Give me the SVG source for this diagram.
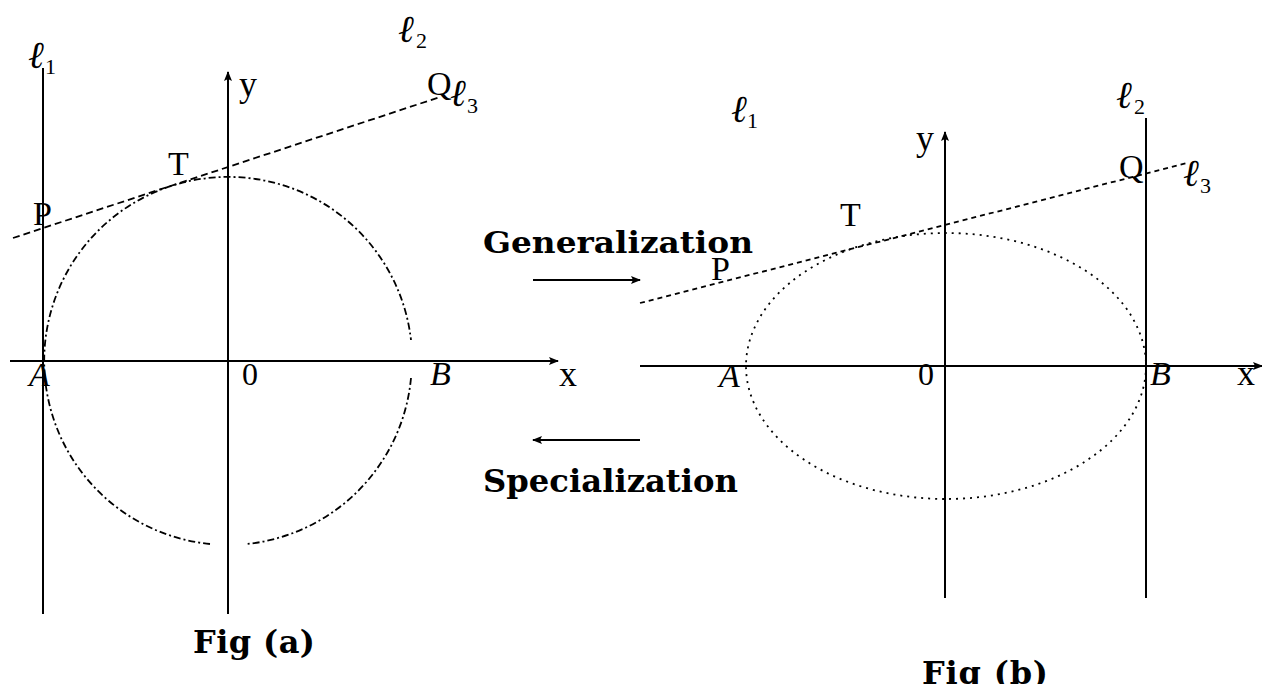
<svg xmlns="http://www.w3.org/2000/svg" width="1262" height="684" viewBox="0 0 1262 684">
<defs>
<marker id="ah" viewBox="0 0 10 8" refX="9" refY="4" markerWidth="10" markerHeight="8" markerUnits="userSpaceOnUse" orient="auto">
<path d="M0,0 L10,4 L0,8 L2,4 Z" fill="#000"/>
</marker>
<style>
.ax{stroke:#000;stroke-width:2;fill:none}
.circ{stroke:#000;stroke-width:1.8;fill:none;stroke-dasharray:7 3 2 3}
.dash3{stroke:#000;stroke-width:1.8;fill:none;stroke-dasharray:7 4}
.dot3{stroke:#000;stroke-width:1.8;fill:none;stroke-dasharray:5 4}
.ell{stroke:#000;stroke-width:1.8;fill:none;stroke-dasharray:2 5}
.lbl{font-family:"Liberation Serif",serif;font-size:34px;fill:#000}
.it{font-family:"Liberation Serif",serif;font-size:34px;font-style:italic;fill:#000}
.ell-l{font-family:"DejaVu Serif",serif;font-size:38px;font-style:italic;fill:#000}
.sub{font-family:"Liberation Serif",serif;font-size:22px;fill:#000}
.bold{font-family:"DejaVu Serif",serif;font-weight:bold;fill:#000}
</style>
</defs>
<rect width="1262" height="684" fill="#fff"/>

<g id="connectors">
<!-- Fig (a) -->
<line class="ax" x1="43" y1="68" x2="43" y2="614"/>
<line class="ax" x1="228" y1="614" x2="228" y2="72" marker-end="url(#ah)"/>
<line class="ax" x1="10" y1="361" x2="558" y2="361" marker-end="url(#ah)"/>
<path class="circ" d="M411,378 A184,184 0 0 1 247,544"/>
<path class="circ" d="M210,544 A184,184 0 1 1 411,340"/>
<line class="dash3" x1="13" y1="238" x2="440" y2="97"/>
<!-- middle arrows -->
<line class="ax" x1="533" y1="280" x2="640" y2="280" marker-end="url(#ah)"/>
<line class="ax" x1="640" y1="440" x2="533" y2="440" marker-end="url(#ah)"/>
<!-- Fig (b) -->
<line class="ax" x1="640" y1="366" x2="1262" y2="366" marker-end="url(#ah)"/>
<line class="ax" x1="945" y1="598" x2="945" y2="132" marker-end="url(#ah)"/>
<line class="ax" x1="1146" y1="118" x2="1146" y2="598"/>
<ellipse class="ell" cx="946" cy="366" rx="200" ry="133"/>
<line class="dot3" x1="640" y1="303" x2="1187" y2="163"/>
</g>

<g id="fig-a-labels">
<text class="ell-l" x="28" y="68">ℓ</text><text class="sub" x="45" y="74">1</text>
<text class="ell-l" x="398" y="42">ℓ</text><text class="sub" x="416" y="48">2</text>
<text class="lbl" x="427" y="95">Q</text>
<text class="ell-l" x="450" y="106">ℓ</text><text class="sub" x="467" y="113">3</text>
<text class="lbl" x="168" y="175">T</text>
<text class="lbl" x="33" y="225">P</text>
<text class="lbl" x="239" y="96" style="font-size:36px">y</text>
<text class="it" x="29" y="386">A</text>
<text class="lbl" x="242" y="385" style="font-size:32px">0</text>
<text class="it" x="430" y="385">B</text>
<text class="lbl" x="559" y="386" style="font-size:36px">x</text>
<text class="bold" x="193" y="653" font-size="32" textLength="122" lengthAdjust="spacing">Fig (a)</text>
</g>

<g id="middle-labels">
<text class="bold" x="483" y="253" font-size="30" textLength="270" lengthAdjust="spacingAndGlyphs">Generalization</text>
<text class="bold" x="483" y="492" font-size="31" textLength="255" lengthAdjust="spacingAndGlyphs">Specialization</text>
</g>

<g id="fig-b-labels">
<text class="ell-l" x="731" y="122">ℓ</text><text class="sub" x="747" y="128">1</text>
<text class="lbl" x="916" y="150" style="font-size:36px">y</text>
<text class="lbl" x="840" y="226">T</text>
<text class="lbl" x="711" y="280">P</text>
<text class="ell-l" x="1116" y="108">ℓ</text><text class="sub" x="1134" y="114">2</text>
<text class="lbl" x="1119" y="178">Q</text>
<text class="ell-l" x="1183" y="186">ℓ</text><text class="sub" x="1200" y="193">3</text>
<text class="it" x="719" y="387">A</text>
<text class="lbl" x="918" y="385" style="font-size:32px">0</text>
<text class="it" x="1150" y="385">B</text>
<text class="lbl" x="1237" y="385" style="font-size:36px">x</text>
<text class="bold" x="922" y="684" font-size="32" textLength="126" lengthAdjust="spacing">Fig (b)</text>
</g>
</svg>
